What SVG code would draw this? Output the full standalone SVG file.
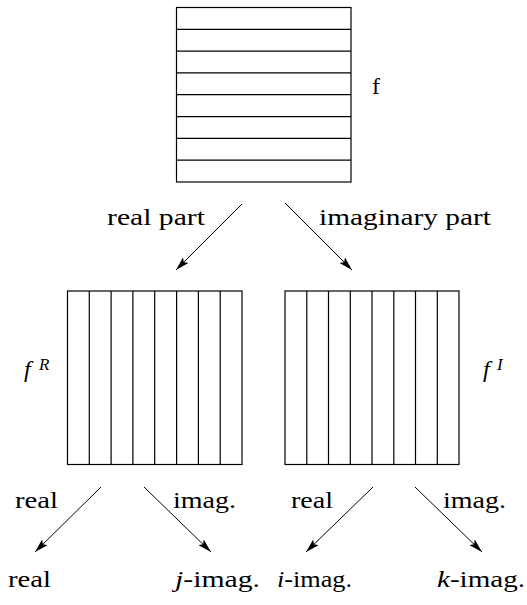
<svg xmlns="http://www.w3.org/2000/svg" width="527" height="605" viewBox="0 0 527 605">
<style>
.box{fill:#fff;stroke:#000;stroke-width:1.2}
.ln{stroke:#000;stroke-width:1.2;fill:none}
.i{font-style:italic}
.sup{font-size:17px;font-style:italic}
.arr{stroke:#000;stroke-width:1;fill:none;marker-end:url(#ah)}
</style>
<defs>
<marker id="ah" viewBox="0 0 14 8" refX="14" refY="4" markerWidth="14" markerHeight="8" markerUnits="userSpaceOnUse" orient="auto">
<path d="M0,0 L14,4 L0,8 L3,4 Z" fill="#000"/>
</marker>
</defs>
<g font-family="Liberation Serif, DejaVu Serif, serif" font-size="24" fill="#000">
<g id="node-f">
<rect class="box" x="176.5" y="7.5" width="174.5" height="174.5"/>
<path class="ln" d="M176.5,29.3H351M176.5,51.1H351M176.5,72.9H351M176.5,94.7H351M176.5,116.6H351M176.5,138.4H351M176.5,160.2H351"/>
<text x="372" y="94">f</text>
</g>
<g id="node-fR">
<rect class="box" x="67.5" y="291" width="174.5" height="173.5"/>
<path class="ln" d="M89.3,291V464.5M111.1,291V464.5M132.9,291V464.5M154.7,291V464.5M176.6,291V464.5M198.4,291V464.5M220.2,291V464.5"/>
<text class="i" x="24" y="377">f</text><text class="sup" x="39" y="370">R</text>
</g>
<g id="node-fI">
<rect class="box" x="285" y="291" width="174" height="173.5"/>
<path class="ln" d="M306.8,291V464.5M328.5,291V464.5M350.3,291V464.5M372,291V464.5M393.8,291V464.5M415.5,291V464.5M437.3,291V464.5"/>
<text class="i" x="483" y="377">f</text><text class="sup" x="497" y="370">I</text>
</g>
<g id="node-real">
<text x="8" y="587" textLength="43" lengthAdjust="spacingAndGlyphs">real</text>
</g>
<g id="node-jimag">
<text x="175" y="587" textLength="85" lengthAdjust="spacingAndGlyphs"><tspan class="i">j</tspan>-imag.</text>
</g>
<g id="node-iimag">
<text x="277" y="587" textLength="75" lengthAdjust="spacingAndGlyphs"><tspan class="i">i</tspan>-imag.</text>
</g>
<g id="node-kimag">
<text x="437" y="587" textLength="88" lengthAdjust="spacingAndGlyphs"><tspan class="i">k</tspan>-imag.</text>
</g>
<g id="connectors">
<line class="arr" x1="242" y1="204" x2="176" y2="270"/>
<line class="arr" x1="285" y1="203" x2="352" y2="270"/>
<line class="arr" x1="101" y1="487" x2="35" y2="552"/>
<line class="arr" x1="144" y1="487" x2="211" y2="552"/>
<line class="arr" x1="373" y1="487" x2="306" y2="552"/>
<line class="arr" x1="415" y1="487" x2="482" y2="552"/>
<text x="107" y="225" textLength="98" lengthAdjust="spacingAndGlyphs">real part</text>
<text x="319" y="225" textLength="172" lengthAdjust="spacingAndGlyphs">imaginary part</text>
<text x="15" y="508" textLength="43" lengthAdjust="spacingAndGlyphs">real</text>
<text x="173" y="508" textLength="63" lengthAdjust="spacingAndGlyphs">imag.</text>
<text x="291" y="508" textLength="42" lengthAdjust="spacingAndGlyphs">real</text>
<text x="443" y="508" textLength="63" lengthAdjust="spacingAndGlyphs">imag.</text>
</g>
</g>
</svg>
